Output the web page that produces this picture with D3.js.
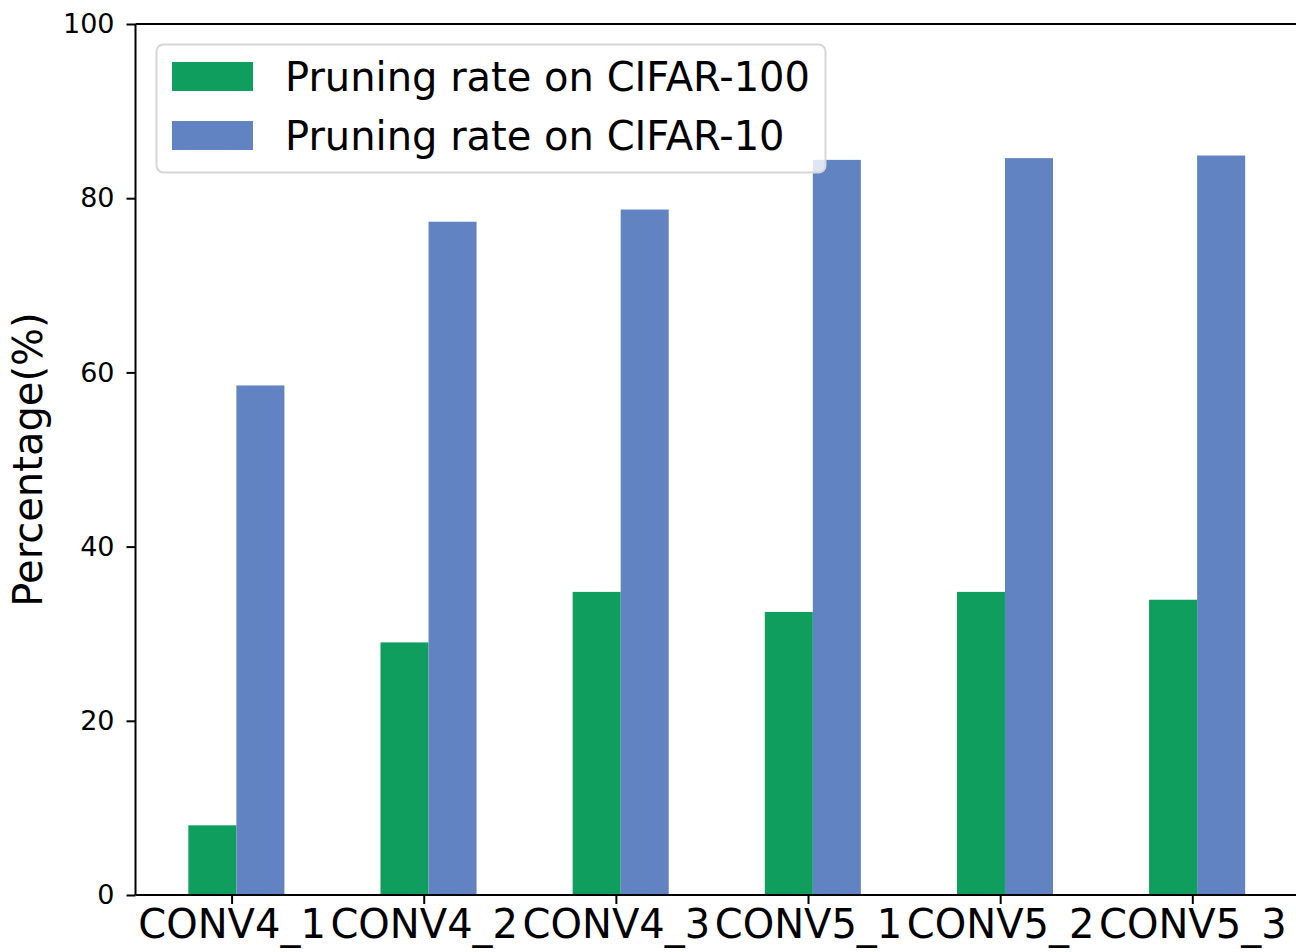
<!DOCTYPE html>
<html>
<head>
<meta charset="utf-8">
<script src="https://cdn.jsdelivr.net/npm/d3@7"></script>
<style>
  html, body { margin: 0; padding: 0; background: #fff; }
  svg { display: block; font-family: "DejaVu Sans", sans-serif; }
</style>
</head>
<body>
<svg id="chart" width="1296" height="952"></svg>
<script>
const categories = ["CONV4_1", "CONV4_2", "CONV4_3", "CONV5_1", "CONV5_2", "CONV5_3"];
const cifar100 = [8.0, 29.0, 34.8, 32.5, 34.8, 33.9];
const cifar10 = [58.5, 77.3, 78.7, 84.4, 84.6, 84.9];
const seriesNames = ["Pruning rate on CIFAR-100", "Pruning rate on CIFAR-10"];
const yTicks = [0, 20, 40, 60, 80, 100];
const colors = ["#109e5f", "#6283c2"];

(function () {
const svg = d3.select("#chart");
const mLeft = 135.5, mRight = 1298, mTop = 24, mBottom = 895;

const x = d3.scaleLinear().domain([-0.5, 5.55]).range([mLeft, mRight]);
const y = d3.scaleLinear().domain([0, 100]).range([mBottom, mTop]);
const barW = 0.25;
const offsets = [-0.225, 0.025];

const series = [cifar100, cifar10];
series.forEach((vals, s) => {
  svg.append("g").selectAll("rect").data(vals).join("rect")
    .attr("x", (d, i) => x(i + offsets[s]))
    .attr("width", (d, i) => x(i + offsets[s] + barW) - x(i + offsets[s]))
    .attr("y", d => y(d))
    .attr("height", d => y(0) - y(d))
    .attr("fill", colors[s]);
});

// y axis
const yAxis = d3.axisLeft(y).tickValues(yTicks).tickFormat(d3.format("d")).tickSize(9).tickPadding(12);
const gy = svg.append("g").attr("transform", `translate(${mLeft},0)`).call(yAxis);
gy.select(".domain").attr("stroke-width", 2).attr("d", `M0,${mBottom}V${mTop}`);
gy.selectAll(".tick line").attr("stroke-width", 2);
gy.selectAll(".tick text").attr("font-size", 27).attr("font-family", "DejaVu Sans").attr("fill", "#000");

// x axis
const xAxis = d3.axisBottom(x).tickValues(d3.range(categories.length)).tickFormat(i => categories[i]).tickSize(9).tickPadding(6);
const gx = svg.append("g").attr("transform", `translate(0,${mBottom})`).call(xAxis);
gx.select(".domain").attr("stroke-width", 2).attr("d", `M${mLeft},0H${mRight}`);
gx.selectAll(".tick line").attr("stroke-width", 2);
gx.selectAll(".tick text").attr("font-size", 40).attr("font-family", "DejaVu Sans").attr("fill", "#000");

// top spine
svg.append("line").attr("x1", mLeft).attr("x2", mRight).attr("y1", mTop).attr("y2", mTop)
  .attr("stroke", "#000").attr("stroke-width", 2);

// y label
svg.append("text")
  .attr("transform", `translate(42,${(mTop + mBottom) / 2}) rotate(-90)`)
  .attr("text-anchor", "middle")
  .attr("font-size", 40)
  .attr("fill", "#000")
  .text("Percentage(%)");

// legend
const lg = svg.append("g");
lg.append("rect").attr("x", 156.5).attr("y", 44.5).attr("width", 669).attr("height", 128)
  .attr("rx", 7).attr("fill", "#fff").attr("fill-opacity", 0.8).attr("stroke", "#d6d6d6").attr("stroke-width", 2);
seriesNames.forEach((name, i) => {
  const cy = 76.5 + i * 59;
  lg.append("rect").attr("x", 172).attr("y", cy - 14.5).attr("width", 81).attr("height", 29).attr("fill", colors[i]);
  lg.append("text").attr("x", 285).attr("y", cy).attr("dy", "0.35em")
    .attr("font-size", 40).attr("fill", "#000").text(name);
});
})();
</script>
</body>
</html>
